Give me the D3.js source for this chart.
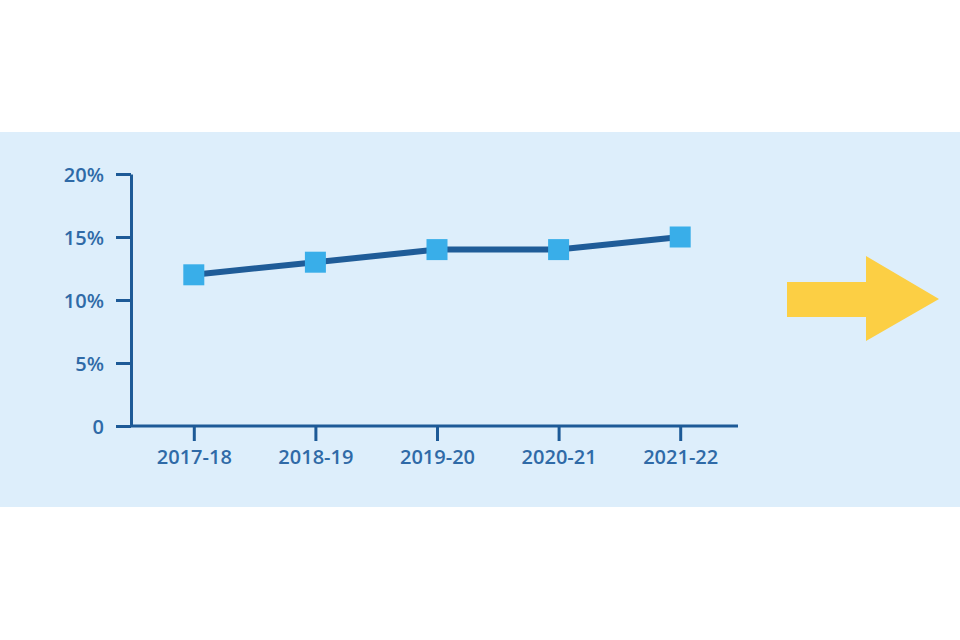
<!DOCTYPE html>
<html>
<head>
<meta charset="utf-8">
<script src="https://cdn.jsdelivr.net/npm/d3@7/dist/d3.min.js"></script>
<style>
  body { margin: 0; background: #fff; }
  svg { display: block; }
</style>
</head>
<body>
<div id="chart"></div>
<script>
// данные графика
const years = ["2017-18", "2018-19", "2019-20", "2020-21", "2021-22"];
const shares = [12, 13, 14, 14, 15];
const yTicks = [0, 5, 10, 15, 20];

const width = 960, height = 640;
const axisColor = "#1d5a97";
const textColor = "#2f6aa7";
const fontFamily = "'Open Sans', 'Noto Sans', sans-serif";

const svg = d3.select("#chart").append("svg")
    .attr("width", width)
    .attr("height", height);

// голубая подложка
svg.append("rect")
    .attr("x", 0).attr("y", 132)
    .attr("width", width).attr("height", 375)
    .attr("fill", "#ddeefb");

const x = d3.scalePoint()
    .domain(years)
    .range([133, 741])
    .padding(0.5);

const y = d3.scaleLinear()
    .domain([0, 20])
    .range([426, 174]);

// ось Y
const yAxis = svg.append("g")
    .attr("transform", "translate(131,0)")
    .call(d3.axisLeft(y)
        .tickValues(yTicks)
        .tickSize(15)
        .tickSizeOuter(0)
        .tickPadding(12)
        .tickFormat(d => d === 0 ? "0" : d + "%"));

// ось X
const xAxis = svg.append("g")
    .attr("transform", "translate(0,426)")
    .call(d3.axisBottom(x)
        .tickSize(15)
        .tickSizeOuter(0)
        .tickPadding(9));

xAxis.select(".domain").attr("d", "M131,0H738");

[yAxis, xAxis].forEach(ax => {
    ax.attr("font-family", fontFamily).attr("font-size", 20);
    ax.select(".domain").attr("stroke", axisColor).attr("stroke-width", 3);
    ax.selectAll(".tick line").attr("stroke", axisColor).attr("stroke-width", 3);
    ax.selectAll(".tick text")
        .attr("fill", textColor)
        .attr("font-weight", 600);
});
yAxis.selectAll(".tick text").attr("dy", "0.35em");

// линия
const line = d3.line()
    .x((d, i) => x(years[i]))
    .y(d => y(d));

svg.append("path")
    .datum(shares)
    .attr("d", line)
    .attr("fill", "none")
    .attr("stroke", "#1f5c98")
    .attr("stroke-width", 6);

// маркеры-квадраты
const size = 21;
svg.append("g")
    .selectAll("rect")
    .data(shares)
    .enter().append("rect")
    .attr("x", (d, i) => x(years[i]) - size / 2)
    .attr("y", d => y(d) - size / 2)
    .attr("width", size)
    .attr("height", size)
    .attr("fill", "#39aee9");

// жёлтая стрелка
svg.append("path")
    .attr("d", "M787,282H866V256L939,299L866,341V317H787Z")
    .attr("fill", "#fccf44");
</script>
</body>
</html>
